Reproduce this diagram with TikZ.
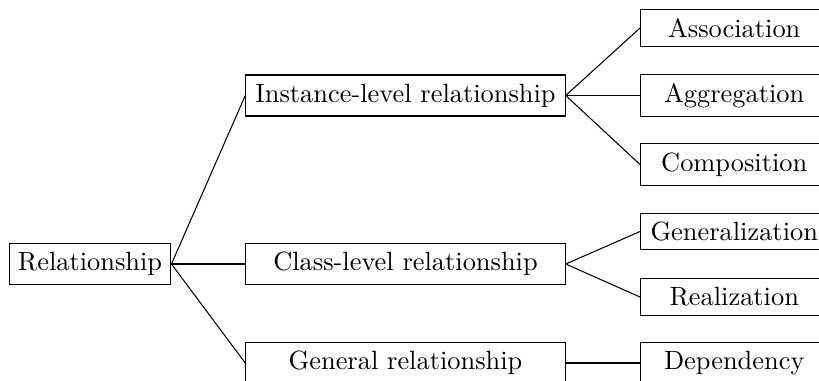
\documentclass[tikz,border=0pt]{standalone}
\begin{document}
\begin{tikzpicture}[x=0.3788pt,y=-0.3788pt,
  box/.style={draw,rectangle,inner sep=3.33pt},
  midbox/.style={box,minimum width=121pt},
  leafbox/.style={box,minimum width=71pt,anchor=west},
  link/.style={draw,line width=0.4pt}]
  \useasboundingbox (0,0) rectangle (819,380);
  \clip (0,0) rectangle (819,380);

  % root
  \node[box] (rel) at (90,264) {Relationship};

  % second level
  \node[midbox] (inst) at (405.5,95.5) {Instance-level relationship};
  \node[midbox] (cls)  at (405.5,264) {Class-level relationship};
  \node[midbox] (gen)  at (405.5,363) {General relationship};

  % leaves
  \node[leafbox] (assoc) at (640,28)    {Association};
  \node[leafbox] (aggr)  at (640,95.5)  {Aggregation};
  \node[leafbox] (comp)  at (640,164.5) {Composition};
  \node[leafbox] (gnz)   at (640,231.5) {Generalization};
  \node[leafbox] (real)  at (640,297)   {Realization};
  \node[leafbox] (dep)   at (640,363)   {Dependency};

  % connectors
  \draw[link] (rel.east) -- (inst.west);
  \draw[link] (rel.east) -- (cls.west);
  \draw[link] (rel.east) -- (gen.west);
  \draw[link] (inst.east) -- (assoc.west);
  \draw[link] (inst.east) -- (aggr.west);
  \draw[link] (inst.east) -- (comp.west);
  \draw[link] (cls.east) -- (gnz.west);
  \draw[link] (cls.east) -- (real.west);
  \draw[link] (gen.east) -- (dep.west);
\end{tikzpicture}
\end{document}
